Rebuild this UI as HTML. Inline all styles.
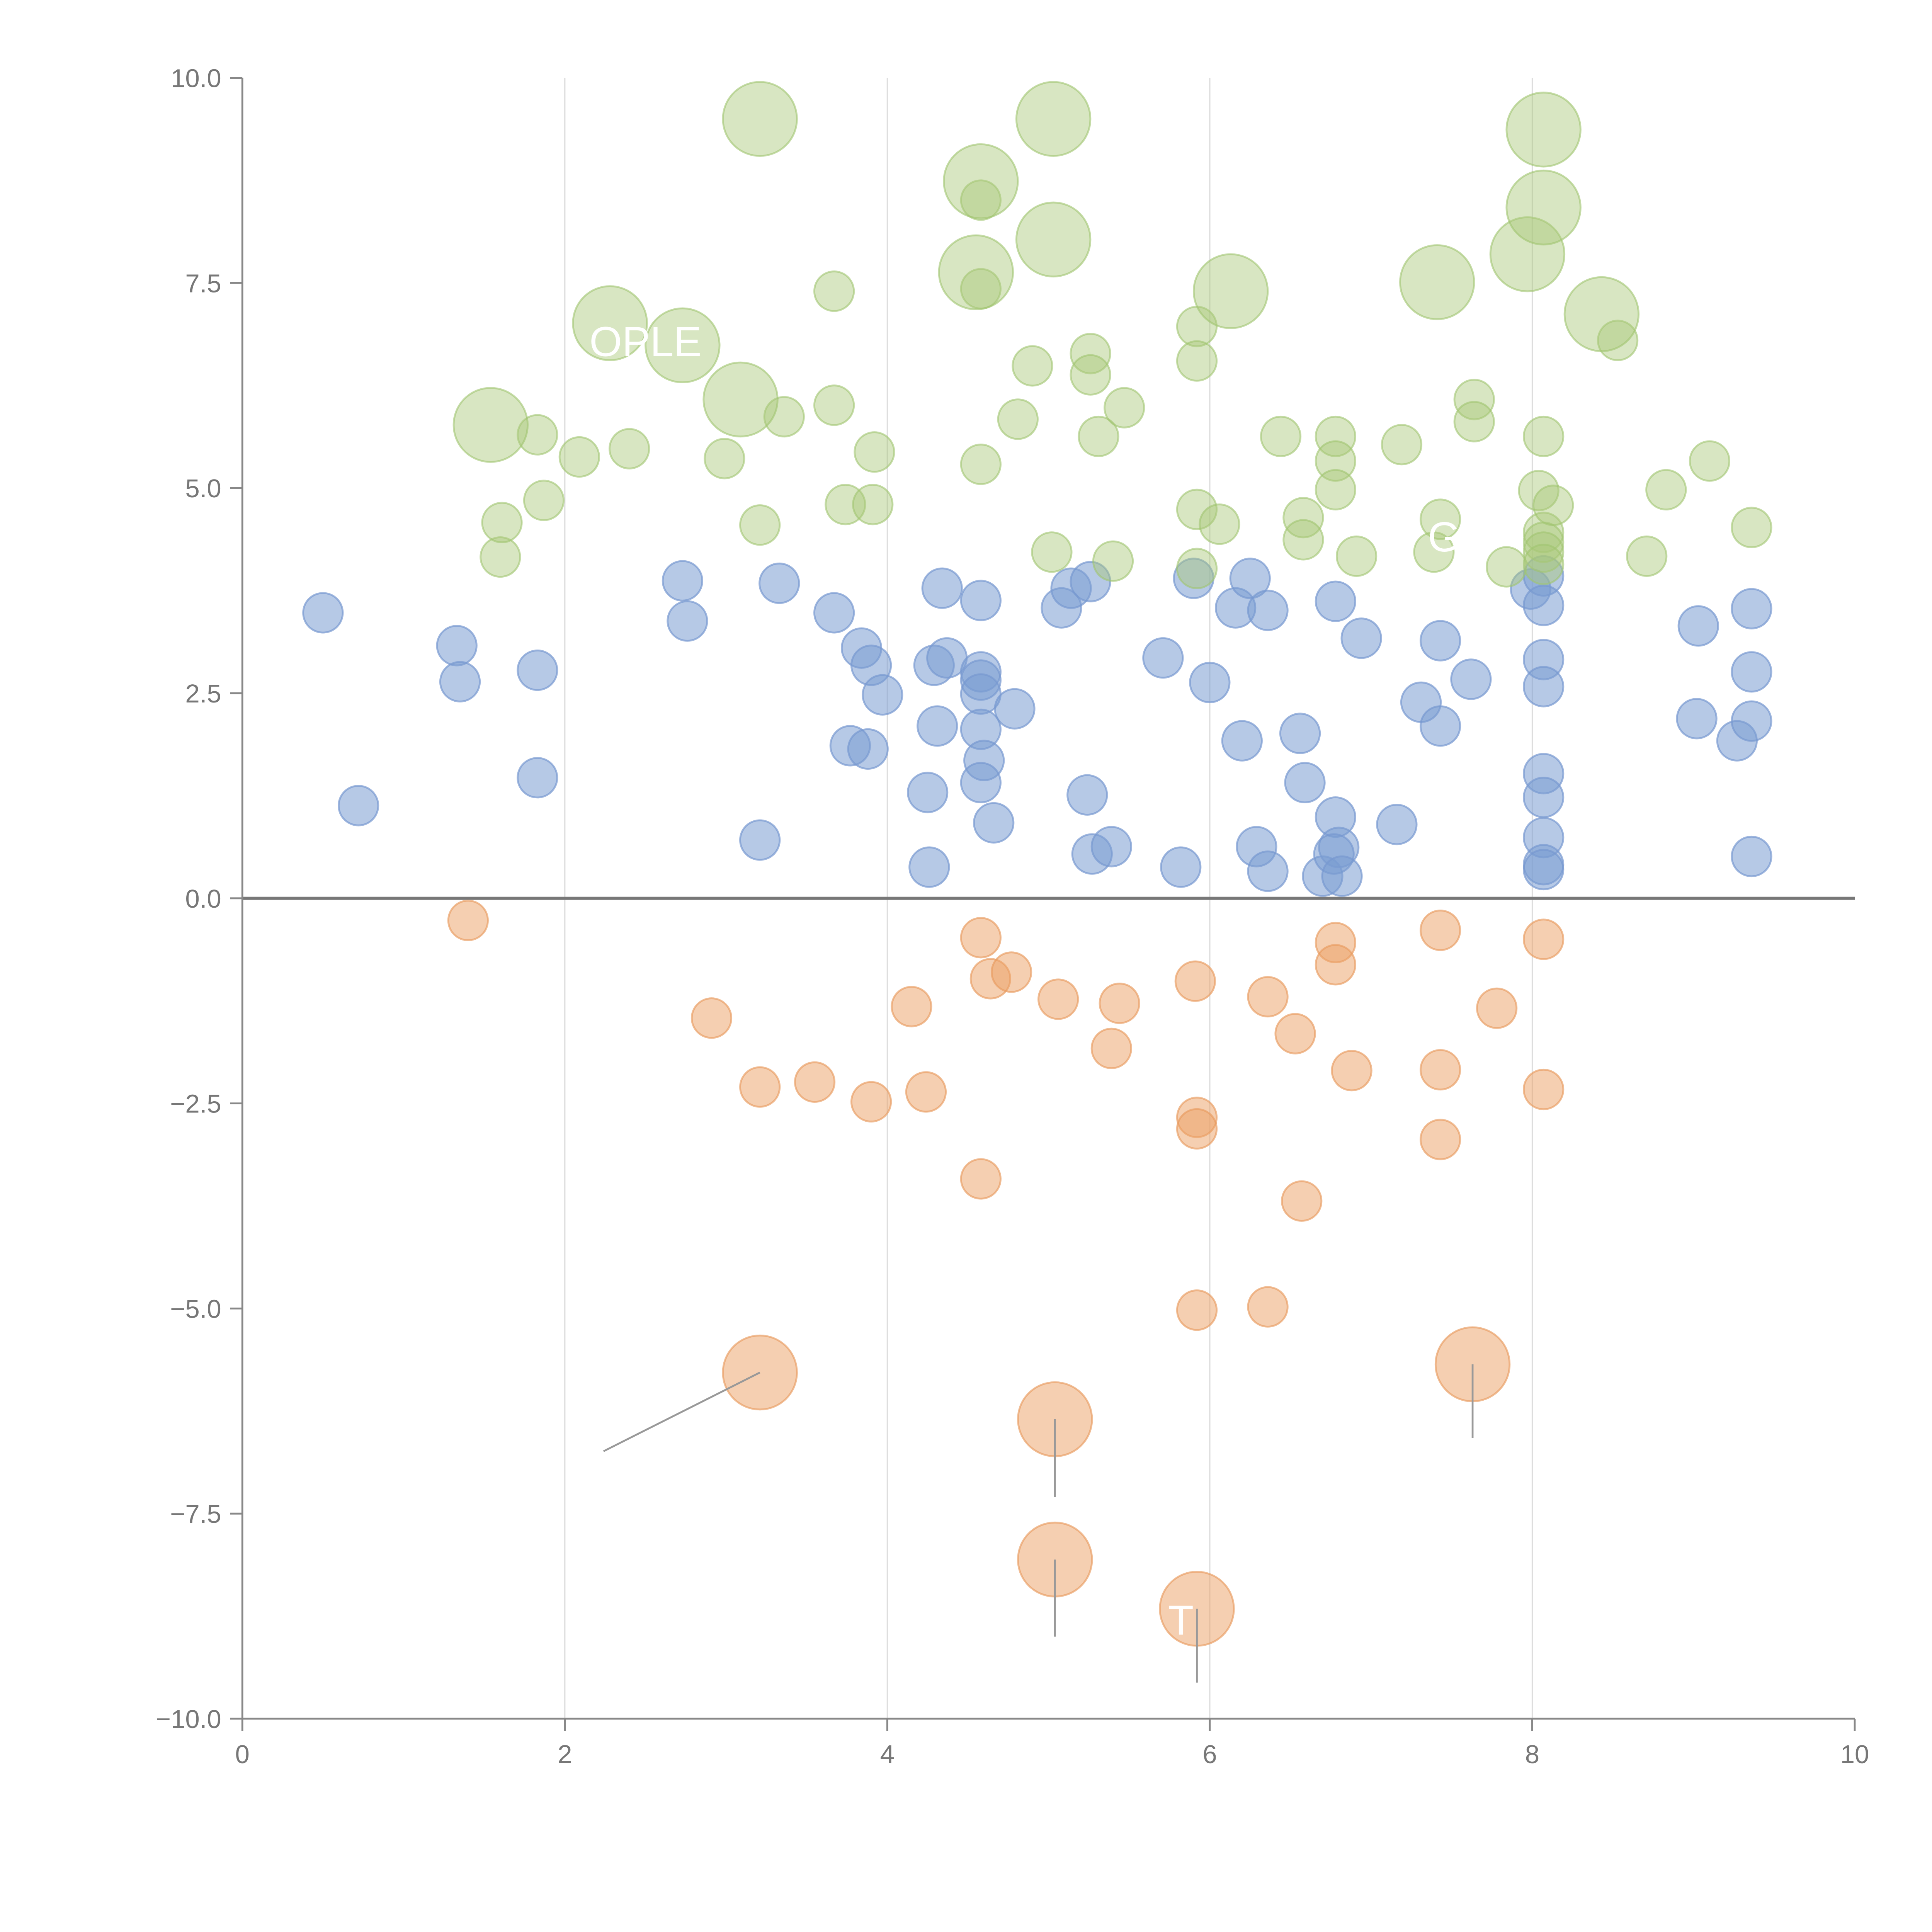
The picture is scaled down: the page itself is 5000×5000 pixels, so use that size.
<!DOCTYPE html>
<html><head><meta charset="utf-8"><style>html,body{margin:0;padding:0;background:#fff}svg{display:block}</style></head>
<body>
<svg id="chart" width="5000" height="5000" viewBox="0 0 1562.5 1562.5" xmlns="http://www.w3.org/2000/svg" font-family="Liberation Sans, sans-serif"></svg>
<script>
const xTicks=[0,2,4,6,8,10];
const xTickLabels=["0","2","4","6","8","10"];
const yTicks=[10,7.5,5,2.5,0,-2.5,-5,-7.5,-10];
const yTickLabels=["10.0","7.5","5.0","2.5","0.0","\u22122.5","\u22125.0","\u22127.5","\u221210.0"];
const blueX=[0.50,0.72,1.33,1.35,1.83,1.83,2.73,2.76,3.21,3.33,3.67,3.84,3.90,3.97,3.77,3.88,4.29,4.31,4.37,4.34,4.25,4.26,4.58,4.58,4.58,4.58,4.58,4.60,4.58,4.66,4.79,5.08,5.14,5.26,5.24,5.27,5.39,5.71,5.82,5.90,6.00,6.16,6.25,6.36,6.20,6.29,6.36,6.56,6.59,6.70,6.78,6.78,6.80,6.77,6.82,6.94,7.16,7.31,7.43,7.43,7.62,7.99,8.07,8.07,8.07,8.07,8.07,8.07,8.07,8.07,8.07,9.03,9.02,9.27,9.36,9.36,9.36,9.36];
const blueY=[3.48,1.13,3.08,2.64,2.78,1.47,3.87,3.38,0.71,3.84,3.48,3.05,2.84,2.48,1.86,1.82,2.84,2.10,2.93,3.78,1.29,0.38,3.63,2.76,2.66,2.49,2.06,1.68,1.41,0.92,2.31,3.54,3.78,3.86,1.26,0.54,0.63,2.93,0.38,3.90,2.63,3.54,3.90,3.51,1.92,0.63,0.33,2.01,1.41,0.27,3.62,0.99,0.62,0.54,0.27,3.17,0.90,2.39,3.14,2.10,2.67,3.77,3.93,3.57,2.91,2.58,1.52,1.23,0.74,0.41,0.35,3.32,2.19,1.92,3.53,2.76,2.16,0.51];
const blueSize=blueX.map(()=>1);
const orangeX=[1.40,2.91,3.21,3.55,3.90,4.15,4.24,4.58,4.64,4.77,4.58,5.06,5.39,5.44,5.91,5.92,5.92,5.92,6.36,6.36,6.53,6.57,6.78,6.78,6.88,7.43,7.43,7.43,7.78,8.07,8.07,3.21,5.04,5.04,5.92,7.63];
const orangeY=[-0.27,-1.46,-2.30,-2.24,-2.48,-1.32,-2.36,-0.48,-0.98,-0.90,-3.42,-1.23,-1.83,-1.28,-1.01,-2.67,-2.81,-5.02,-1.20,-4.98,-1.65,-3.69,-0.54,-0.81,-2.10,-0.39,-2.09,-2.94,-1.34,-0.50,-2.33,-5.78,-6.35,-8.06,-8.66,-5.68];
const orangeSize=[1,1,1,1,1,1,1,1,1,1,1,1,1,1,1,1,1,1,1,1,1,1,1,1,1,1,1,1,1,1,1,3.5,3.5,3.5,3.5,3.5];
const greenX=[1.60,1.61,1.83,1.87,2.09,2.40,2.99,3.21,3.36,3.67,3.67,3.74,3.91,3.92,4.58,4.58,4.58,4.81,4.90,5.02,5.26,5.26,5.31,5.40,5.47,5.92,5.92,5.92,5.92,6.06,6.44,6.58,6.58,6.78,6.78,6.78,6.91,7.19,7.39,7.43,7.64,7.64,7.84,8.07,8.04,8.07,8.07,8.07,8.07,8.13,8.53,8.71,8.83,9.10,9.36,1.54,2.28,2.73,3.09,3.21,4.58,4.55,5.03,5.03,6.13,7.41,7.97,8.07,8.07,8.43];
const greenY=[4.16,4.58,5.65,4.85,5.38,5.48,5.36,4.55,5.87,7.40,6.01,4.80,4.80,5.44,8.51,7.43,5.29,5.84,6.49,4.22,6.64,6.38,5.63,4.11,5.98,6.97,6.55,4.74,4.02,4.56,5.63,4.64,4.37,5.63,5.33,4.98,4.17,5.53,4.22,4.62,6.08,5.81,4.04,5.63,4.97,4.46,4.34,4.22,4.07,4.79,6.80,4.17,4.98,5.33,4.52,5.77,7.01,6.74,6.08,9.50,8.74,7.63,9.50,8.03,7.40,7.51,7.85,8.42,9.37,7.12];
const greenSize=greenX.map((_,i)=>i<55?1:3.5);
const leaderFromX=[3.21,5.04,5.04,5.92,7.63];
const leaderFromY=[-5.78,-6.35,-8.06,-8.66,-5.68];
const leaderToX=[2.24,5.04,5.04,5.92,7.63];
const leaderToY=[-6.74,-7.30,-9.0,-9.56,-6.58];

const NS="http://www.w3.org/2000/svg";
const svg=document.getElementById('chart');
const X0=196,X1=1500,Y0=1390,Y1=63;
const sx=v=>X0+(v-0)/(10-0)*(X1-X0);
const sy=v=>Y0-(v+10)/20*(Y0-Y1);
const sr=s=>16*Math.sqrt(s);
function mk(tag,attrs){const e=document.createElementNS(NS,tag);for(const k in attrs)e.setAttribute(k,attrs[k]);svg.appendChild(e);return e;}

xTicks.forEach((t,i)=>{if(t>0&&t<10){const g=mk('line',{x1:sx(t),x2:sx(t),y1:Y1,y2:Y0,stroke:'#dddddd','stroke-width':1});

}});
const z=mk('line',{x1:X0,x2:X1,y1:sy(0),y2:sy(0),stroke:'#777','stroke-width':2.5});



function series(xs,ys,ss,fill,stroke,name){
 xs.forEach((x,i)=>{const c=mk('circle',{cx:sx(x),cy:sy(ys[i]),r:sr(ss[i]),fill:fill,stroke:stroke,'stroke-width':1.5});
 
 });
}
series(blueX,blueY,blueSize,'rgba(122,156,210,0.55)','rgba(120,152,208,0.7)','blue-bubble');
series(greenX,greenY,greenSize,'rgba(168,200,120,0.45)','rgba(160,196,112,0.6)','green-bubble');
series(orangeX,orangeY,orangeSize,'rgba(236,160,100,0.5)','rgba(232,155,95,0.65)','orange-bubble');

leaderFromX.forEach((x,i)=>{const l=mk('line',{x1:sx(x),y1:sy(leaderFromY[i]),x2:sx(leaderToX[i]),y2:sy(leaderToY[i]),stroke:'#999','stroke-width':1.5});

});

const ya=mk('line',{x1:X0,x2:X0,y1:Y1,y2:Y0,stroke:'#888','stroke-width':1.5});


const xa=mk('line',{x1:X0,x2:X1,y1:Y0,y2:Y0,stroke:'#888','stroke-width':1.5});


yTicks.forEach((t,i)=>{
 const tk=mk('line',{x1:X0-10,x2:X0,y1:sy(t),y2:sy(t),stroke:'#888','stroke-width':1.5});
 
 
 const tx=mk('text',{x:X0-17,y:sy(t)+7.5,'text-anchor':'end','font-size':21,fill:'#777'});
 tx.textContent=yTickLabels[i];
 
 
});
xTicks.forEach((t,i)=>{
 const tk=mk('line',{x1:sx(t),x2:sx(t),y1:Y0,y2:Y0+10,stroke:'#888','stroke-width':1.5});
 
 
 const tx=mk('text',{x:sx(t),y:Y0+36,'text-anchor':'middle','font-size':21,fill:'#777'});
 tx.textContent=xTickLabels[i];
 
 
});
[["OPLE",522,288],["T",955,1322],["G",1168,446]].forEach(a=>{
 const t=mk('text',{x:a[1],y:a[2],'text-anchor':'middle','font-size':34,fill:'#fff'});
 t.textContent=a[0];
 
 
});
</script>
</body></html>
